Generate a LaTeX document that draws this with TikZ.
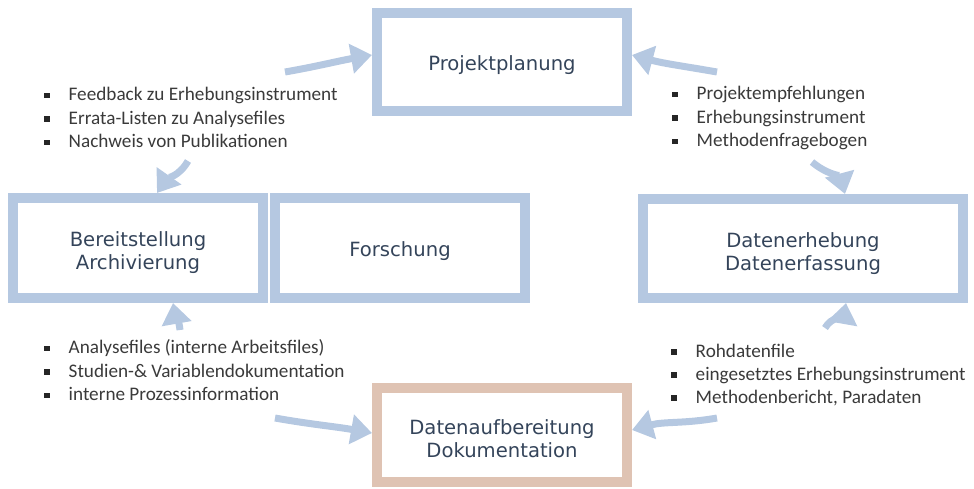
\documentclass[tikz,border=0pt]{standalone}
\usepackage{fontspec}
\usetikzlibrary{arrows.meta}
\newfontfamily\boxfont{DejaVu Sans}
\newfontfamily\listfont{Carlito}
\definecolor{blau}{HTML}{B5C8E1}
\definecolor{pfirsich}{HTML}{DFC3B3}
\definecolor{dunkel}{HTML}{34445A}
\definecolor{textgrau}{HTML}{3A3A3A}
\newcommand{\punkt}{{\color{black!85}\rule[2.5pt]{5.5pt}{5.5pt}}\hspace{19pt}}
\tikzset{
  kasten/.style={draw=blau, line width=10pt, minimum width=250pt, minimum height=98pt, inner sep=0pt},
  titel/.style={align=center, text=dunkel, inner sep=0pt, font=\boxfont\fontsize{19.6}{23}\selectfont},
  liste/.style={anchor=base west, inner sep=0pt, text=textgrau, font=\listfont\fontsize{19.2}{24}\selectfont},
  pfeil/.style={draw=blau, line width=7pt, -{Triangle[length=21pt, width=29pt]}}
}
\begin{document}
\begin{tikzpicture}[x=1pt, y=-1pt]
\useasboundingbox (0,0) rectangle (974,488);
% Kaesten
\node[kasten] (plan) at (502,62) {};
\node[kasten, minimum height=100pt] (bereit) at (138,248) {};
\node[kasten, minimum height=100pt] (forsch) at (400,248) {};
\node[kasten, minimum width=320pt, minimum height=99pt] (erheb) at (803,248.5) {};
\node[kasten, draw=pfirsich, minimum height=94pt] (aufb) at (502,435) {};
\node[titel] (planT) at ([yshift=-3pt]plan.center) {Projektplanung};
\node[titel] (bereitT) at ([yshift=-5pt]bereit.center) {Bereitstellung\\Archivierung};
\node[titel] (forschT) at ([yshift=-3pt]forsch.center) {Forschung};
\node[titel] (erhebT) at ([yshift=-5pt]erheb.center) {Datenerhebung\\Datenerfassung};
\node[titel] (aufbT) at ([yshift=-4pt]aufb.center) {Datenaufbereitung\\Dokumentation};
% Listen
\foreach \t [count=\i] in {Feedback zu Erhebungsinstrument, Errata-Listen zu Analysefiles, Nachweis von Publikationen}
  \node[liste] (fb\i) at (44,77+23.5*\i) {\punkt\t};
\foreach \t [count=\i] in {Projektempfehlungen, Erhebungsinstrument, Methodenfragebogen}
  \node[liste] (pe\i) at (672,76+23.5*\i) {\punkt\t};
\foreach \t [count=\i] in {Analysefiles (interne Arbeitsfiles), Studien-\& Variablendokumentation, interne Prozessinformation}
  \node[liste] (af\i) at (44,330+23.5*\i) {\punkt\t};
\foreach \t [count=\i] in {Rohdatenfile, eingesetztes Erhebungsinstrument, {Methodenbericht, Paradaten}}
  \node[liste] (rd\i) at (671,334+23*\i) {\punkt\t};
% Pfeile
\coordinate (p1) at (285,72);
\coordinate (p2) at (717,72);
\coordinate (p3) at (812,162);
\coordinate (p4) at (825,328);
\coordinate (p5) at (717,418);
\coordinate (p6) at (275,418);
\coordinate (p7) at (180,330);
\coordinate (p8) at (188,161);
\draw[pfeil] (p1) to[out=10, in=190] ([yshift=7pt]plan.west);
\draw[pfeil] (p2) to[out=170, in=-15] ([yshift=7pt]plan.east);
\draw[pfeil] (p3) to[out=-40, in=105] ([xshift=42pt]erheb.north);
\draw[pfeil] (p4) to[out=60, in=-100] ([xshift=43pt]erheb.south);
\draw[pfeil] (p5) to[out=190, in=15] ([yshift=5pt]aufb.east);
\draw[pfeil] (p6) to[out=-10, in=170] ([yshift=2pt]aufb.west);
\draw[pfeil] (p7) to[out=95, in=-80] ([xshift=35pt]bereit.south);
\draw[pfeil] (p8) to[out=-120, in=55] ([xshift=19pt]bereit.north);
\end{tikzpicture}
\end{document}
